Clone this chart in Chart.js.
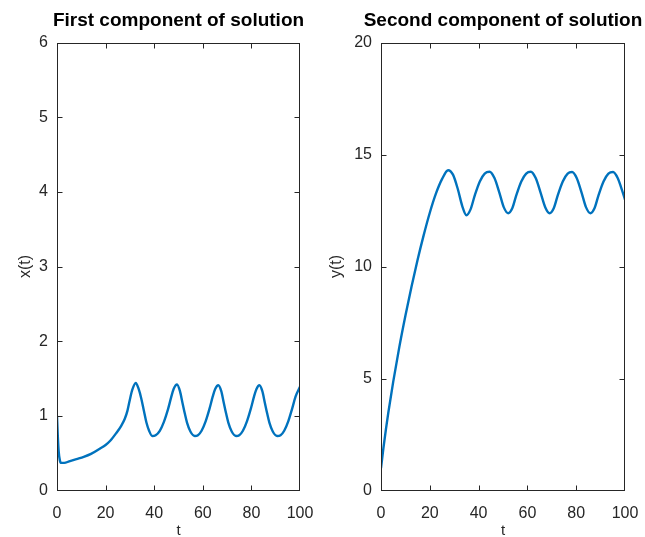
<!DOCTYPE html>
<html>
<head>
<meta charset="utf-8">
<script src="https://cdn.jsdelivr.net/npm/chart.js@4.4.1/dist/chart.umd.min.js"></script>
<style>
    html, body { margin: 0; padding: 0; background: #ffffff; }
    body { width: 645px; height: 537px; position: relative; overflow: hidden; }
    canvas { position: absolute; top: 0; }
    #xChart { left: 0; }
    #yChart { left: 320px; }
</style>
</head>
<body>
<canvas id="xChart" width="320" height="537"></canvas>
<canvas id="yChart" width="325" height="537"></canvas>
<script>
// Solution components

// First component x(t)
const tX = [0, 0.3, 0.7, 1.2, 1.8, 3, 5, 8, 11, 14, 17.6, 20, 22, 24.4, 26.3, 27.9, 29, 30, 31, 32.4,
    33.6, 34.7, 35.8, 36.8, 37.9, 39.2, 40.6, 42.3, 44, 45.7, 47, 48, 49.4,
    50.6, 51.6, 52.6, 53.5, 54.9, 56.7, 58, 59.5, 61.2, 62.8, 64.1, 65.1, 66.4,
    67.6, 68.6, 69.6, 70.5, 71.9, 73.7, 75, 76.5, 78.2, 79.8, 81.1, 82.1, 83.3,
    84.5, 85.5, 86.5, 87.4, 88.8, 90.6, 92, 93.5, 95.2, 96.8, 98.2, 100];
const xValues = [1.00, 0.75, 0.52, 0.40, 0.37, 0.37, 0.39, 0.42, 0.45, 0.49, 0.56, 0.61, 0.67, 0.77, 0.86, 0.96, 1.07, 1.22, 1.35, 1.44,
    1.36, 1.23, 1.06, 0.91, 0.80, 0.73, 0.74, 0.80, 0.92, 1.09, 1.25, 1.36, 1.42,
    1.33, 1.18, 1.03, 0.91, 0.79, 0.73, 0.74, 0.80, 0.93, 1.10, 1.26, 1.36, 1.41,
    1.33, 1.18, 1.03, 0.91, 0.79, 0.73, 0.74, 0.80, 0.93, 1.10, 1.26, 1.36, 1.41,
    1.33, 1.18, 1.03, 0.91, 0.79, 0.73, 0.74, 0.80, 0.93, 1.10, 1.26, 1.39];

// Second component y(t)
const tY = [0, 1, 2, 3, 5, 7.5, 10, 12.5, 15, 17.5, 20, 22.5, 25, 27.5,
    29.5, 31.5, 33.3, 35, 36.7, 38.5, 40.5, 42.5, 44.5,
    46.5, 48.5, 50.3, 52.1, 53.8, 55.5, 57.5, 59.5, 61.4,
    63.4, 65.4, 67.3, 69.1, 70.8, 72.5, 74.5, 76.5, 78.3,
    80.2, 82.2, 84, 85.8, 87.5, 89.2, 91.2, 93.2, 95.1, 97, 98.5, 100];
const yValues = [1.0, 1.9, 2.72, 3.48, 4.85, 6.4, 7.8, 9.1, 10.3, 11.4, 12.4, 13.25, 13.9, 14.3,
    14.1, 13.45, 12.7, 12.29, 12.55, 13.2, 13.8, 14.15, 14.23,
    13.95, 13.3, 12.65, 12.38, 12.6, 13.2, 13.8, 14.15, 14.23,
    13.95, 13.3, 12.65, 12.38, 12.6, 13.2, 13.8, 14.15, 14.22,
    13.95, 13.3, 12.65, 12.38, 12.6, 13.2, 13.8, 14.15, 14.22, 13.95, 13.5, 12.99];

// Axis ranges and ticks
const tTicks = [0, 20, 40, 60, 80, 100];
const xTicks = [0, 1, 2, 3, 4, 5, 6];
const yTicks = [0, 5, 10, 15, 20];

const axisColor = '#262626';
const lineColor = '#0072BD';
const fontFamily = '"Liberation Sans", Arial, Helvetica, sans-serif';

// Box around plot area with inward ticks (MATLAB style), title centred on the axes
const boxPlugin = {
    id: 'matlabBox',
    afterDraw(chart, args, opts) {
        const ctx = chart.ctx;
        const area = chart.chartArea;
        const xs = chart.scales.x;
        const ys = chart.scales.y;
        const l = Math.round(area.left) + 0.5;
        const r = Math.round(area.right) - 0.5;
        const t = Math.round(area.top) + 0.5;
        const b = Math.round(area.bottom) - 0.5;
        const len = 5;
        ctx.save();
        ctx.strokeStyle = axisColor;
        ctx.lineWidth = 1;
        ctx.strokeRect(l, t, r - l, b - t);
        ctx.beginPath();
        xs.ticks.slice(1, -1).forEach(tk => {
            const px = Math.round(xs.getPixelForValue(tk.value)) + 0.5;
            ctx.moveTo(px, b); ctx.lineTo(px, b - len);
            ctx.moveTo(px, t); ctx.lineTo(px, t + len);
        });
        ys.ticks.slice(1, -1).forEach(tk => {
            const py = Math.round(ys.getPixelForValue(tk.value)) + 0.5;
            ctx.moveTo(l, py); ctx.lineTo(l + len, py);
            ctx.moveTo(r, py); ctx.lineTo(r - len, py);
        });
        ctx.stroke();

        // title
        ctx.fillStyle = '#000000';
        ctx.font = 'bold 19px ' + fontFamily;
        ctx.textAlign = 'center';
        ctx.textBaseline = 'middle';
        ctx.fillText(opts.text, (area.left + area.right) / 2, 20.5);
        ctx.restore();
    }
};

function makeChart(id, opts) {
    const ctx = document.getElementById(id).getContext('2d');
    const points = opts.t.map((v, i) => ({ x: v, y: opts.values[i] }));
    return new Chart(ctx, {
        type: 'line',
        data: {
            datasets: [{
                data: points,
                borderColor: lineColor,
                borderWidth: 2.4,
                pointRadius: 0,
                fill: false,
                cubicInterpolationMode: 'monotone'
            }]
        },
        options: {
            responsive: false,
            animation: false,
            devicePixelRatio: 1,
            layout: { padding: { left: 0, right: opts.padRight, top: 42.5, bottom: 0 } },
            plugins: {
                legend: { display: false },
                tooltip: { enabled: false },
                title: { display: false },
                matlabBox: { text: opts.title }
            },
            scales: {
                x: {
                    type: 'linear',
                    min: 0,
                    max: 100,
                    afterBuildTicks: scale => { scale.ticks = tTicks.map(v => ({ value: v })); },
                    afterFit: scale => {
                        scale.height = 46.5;
                        scale.paddingLeft = 0;
                        scale.paddingRight = 0;
                    },
                    grid: { display: false, drawTicks: false },
                    border: { display: false },
                    ticks: {
                        color: axisColor,
                        padding: 13,
                        maxRotation: 0,
                        font: { family: fontFamily, size: 16 }
                    },
                    title: {
                        display: true,
                        text: 't',
                        color: axisColor,
                        padding: 0,
                        font: { family: fontFamily, size: 15, lineHeight: 0.85 }
                    }
                },
                y: {
                    type: 'linear',
                    min: opts.yTicks[0],
                    max: opts.yTicks[opts.yTicks.length - 1],
                    afterBuildTicks: scale => { scale.ticks = opts.yTicks.map(v => ({ value: v })); },
                    afterFit: scale => {
                        scale.width = opts.yWidth;
                        scale.paddingTop = 0;
                        scale.paddingBottom = 0;
                    },
                    grid: { display: false, drawTicks: false },
                    border: { display: false },
                    ticks: {
                        color: axisColor,
                        padding: 9,
                        font: { family: fontFamily, size: 16 }
                    },
                    title: {
                        display: true,
                        text: opts.yLabel,
                        color: axisColor,
                        padding: { top: opts.yTitlePad, bottom: 0 },
                        font: { family: fontFamily, size: 16, lineHeight: 1.2 }
                    }
                }
            }
        },
        plugins: [boxPlugin]
    });
}

makeChart('xChart', {
    t: tX, values: xValues, yTicks: xTicks,
    title: 'First component of solution', yLabel: 'x(t)',
    yWidth: 57, padRight: 20, yTitlePad: 16
});

makeChart('yChart', {
    t: tY, values: yValues, yTicks: yTicks,
    title: 'Second component of solution', yLabel: 'y(t)',
    yWidth: 61, padRight: 20, yTitlePad: 7
});
</script>
</body>
</html>
